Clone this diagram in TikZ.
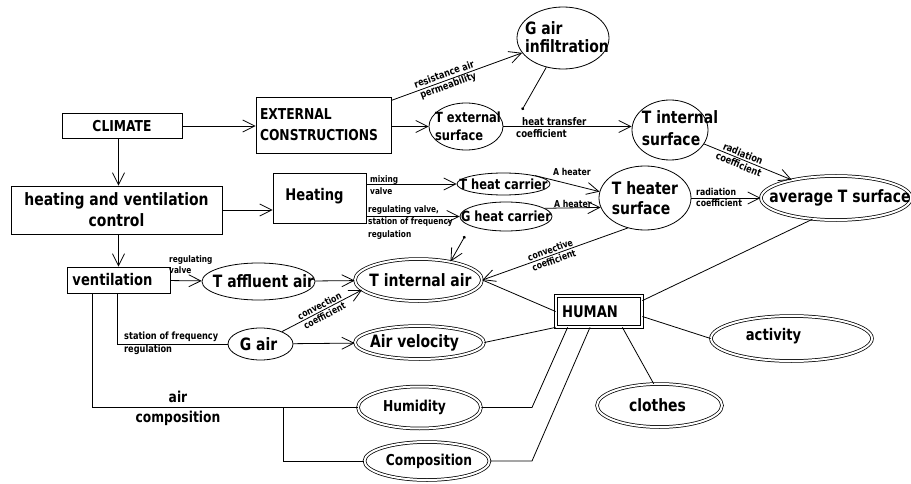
\documentclass[tikz,border=0pt]{standalone}
\usepackage{fontspec}
\setmainfont{DejaVu Sans}[FakeStretch=0.82]
\usetikzlibrary{arrows.meta,shapes.geometric,calc}
\newcommand{\fsz}[2]{\fontsize{#1}{#2}\selectfont\bfseries}
\tikzset{
  box/.style={draw, line width=0.9pt, inner sep=0pt},
  ell/.style={draw, ellipse, line width=0.8pt, inner sep=0pt},
  dell/.style={ell, double, double distance=2pt, line width=0.75pt},
  arr/.style={line width=0.8pt, -{Straight Barb[length=12pt,width=12pt]}},
  ln/.style={line width=0.8pt},
  lbl/.style={font=\fsz{9.5}{11}, inner sep=1pt, align=left},
  lblc/.style={font=\fsz{9.5}{11}, inner sep=1pt, align=center},
  big/.style={font=\fsz{17}{20}, align=left},
  mid/.style={font=\fsz{14}{18}, align=left},
}
\begin{document}
\begin{tikzpicture}[x=1pt,y=-1pt]
\useasboundingbox (0,0) rectangle (911,484);

% boxes
\node[box, minimum width=120pt, minimum height=25pt, font=\fsz{15}{16}] (climate) at (122,126) {CLIMATE};
\node[box, minimum width=135pt, minimum height=56pt, text width=127pt, align=left, font=\fsz{15}{21}] (ext) at (323.5,125) {EXTERNAL\\CONSTRUCTIONS};
\node[box, minimum width=211pt, minimum height=48pt, align=center, font=\fsz{17}{21}] (hv) at (116.5,210) {heating and ventilation\\control};
\node[box, minimum width=93pt, minimum height=50pt, label={[font=\fsz{16}{18}, xshift=-5pt, yshift=2pt]center:Heating}] (heating) at (319.5,198) {};
\node[box, minimum width=103pt, minimum height=26pt, label={[font=\fsz{16}{18}, xshift=-6pt]center:ventilation}] (vent) at (118.5,280) {};
\node[box, double, double distance=1.6pt, line width=0.75pt, minimum width=86pt, minimum height=31pt, label={[font=\fsz{16}{18}, xshift=-9pt]center:HUMAN}] (human) at (599,311.5) {};

% ellipses
\node[ell, minimum width=92pt, minimum height=62pt, label={[big, font=\fsz{17}{18}, xshift=4pt, yshift=1pt]center:{G air\\infiltration}}] (ginf) at (563,38) {};
\node[ell, minimum width=74pt, minimum height=47pt, label={[mid, xshift=2pt]center:{T external\\surface}}] (text) at (466,126.5) {};
\node[ell, minimum width=76pt, minimum height=60pt, label={[big, font=\fsz{17}{22}, xshift=10pt, yshift=2pt]center:{T internal\\surface}}] (tint) at (670,130) {};
\node[dell, minimum width=150pt, minimum height=44pt, label={[big, xshift=4pt]center:average T surface}] (avg) at (836,198) {};
\node[ell, minimum width=92pt, minimum height=64pt, label={[big]center:{T heater\\surface}}] (heater) at (645,198) {};
\node[ell, minimum width=93pt, minimum height=22pt, label={[mid]center:T heat carrier}] (hc1) at (503.5,184) {};
\node[ell, minimum width=92pt, minimum height=29pt, label={[mid]center:G heat carrier}] (hc2) at (506,216.5) {};
\node[ell, minimum width=113pt, minimum height=37pt, label={[big, xshift=5pt]center:T affluent air}] (taff) at (258.5,281.5) {};
\node[dell, minimum width=127pt, minimum height=42pt, label={[big, xshift=2pt]center:T internal air}] (tia) at (418.5,280) {};
\node[ell, minimum width=65pt, minimum height=32pt, label={[big, xshift=-2pt]center:G air}] (gair) at (260.5,344) {};
\node[dell, minimum width=129pt, minimum height=33pt, label={[big, xshift=-5pt]center:Air velocity}] (airv) at (419.5,342.5) {};
\node[dell, minimum width=123pt, minimum height=42pt, label={[font=\fsz{15}{18}, xshift=-5pt]center:Humidity}] (hum) at (419.5,407.5) {};
\node[dell, minimum width=125pt, minimum height=38pt, label={[font=\fsz{15}{18}, xshift=2pt]center:Composition}] (comp) at (427,461) {};
\node[dell, minimum width=125pt, minimum height=43pt, label={[big, xshift=-2pt]center:clothes}] (clothes) at (659.5,405.5) {};
\node[dell, minimum width=161pt, minimum height=45pt, label={[font=\fsz{16}{18}, xshift=-18pt, yshift=2pt]center:activity}] (activity) at (791.5,338.5) {};

\coordinate (dot1) at (522,110);
\coordinate (dot2) at (465,236);
\coordinate (vx1) at (117,0);
\coordinate (vx2) at (92,0);
\coordinate (jx) at (283,0);
\coordinate (hk) at (532,0);

% top
\draw[arr] (climate.east) -- (climate.east -| ext.west);
\draw[arr] (ext.east |- text.west) -- (text.west);
\draw[arr] (ext) -- node[lblc, sloped, pos=0.42, font=\fsz{10}{11.5}] {resistance air\\permeability} (ginf);
\draw[arr] (text.east) -- (text.east -| tint.west);
\node[lbl, anchor=west, font=\fsz{10.5}{12}] (htc) at (515,128) {\hspace*{6pt}heat transfer\\coefficient};
\draw[ln, {Circle[length=3pt]}-] (dot1) -- (ginf);
\draw[arr] (tint) -- node[lblc, sloped, pos=0.42, font=\fsz{10}{11.5}] {radiation\\coefficient} (avg);
\draw[arr] (heater) -- (avg);
\node[lbl, anchor=west] (rc2) at (695,197) {radiation\\coefficient};

% control chain
\draw[arr] (climate.south -| vent) -- (hv.north -| vent);
\draw[arr] (hv.south -| vent) -- (vent.north);
\draw[arr] (hv.east) -- (hv.east -| heating.west);
\draw[arr] (heating.east |- hc1) -- (hc1.west);
\node[lbl, anchor=west, font=\fsz{9}{11.5}] (mv) at (369,185) {mixing\\valve};
\draw[arr] (heating.east |- hc2) -- (hc2.west);
\node[lbl, anchor=north west, font=\fsz{9}{12.5}] (rv) at (367,204) {regulating valve,\\station of frequency\\regulation};
\draw[arr] (hc1.15) -- (heater.172);
\node[lbl] (ah1) at (572,172) {A heater};
\draw[arr] (hc2.12) -- (heater.192);
\node[lbl] (ah2) at (573,204) {A heater};
\draw[ln, {Circle[length=3pt]}-{Straight Barb[length=12pt,width=12pt]}] (dot2) -- (tia.30);
\draw[arr] (heater.240) -- node[lblc, sloped, pos=0.52] {convective\\coefficient} (tia.east);

% ventilation
\draw[arr] (vent) -- (taff);
\node[lbl, anchor=south west, font=\fsz{9}{11}] (rgv) at (168,275) {regulating\\valve};
\draw[arr] (taff) -- (tia);
\draw[arr] (gair.30) -- node[lblc, sloped, pos=0.5] {convection\\coefficient} (tia.190);
\draw[arr] (gair) -- (airv);
\draw[ln] (vx1 |- vent.south) -- (vx1 |- gair.west) -- (gair.west);
\node[lbl, anchor=west, font=\fsz{10}{13}] (sfr) at (123,343) {station of frequency\\regulation};
\draw[ln] (vx2 |- vent.south) -- (vx2 |- hum.west) -- (hum.west);
\draw[ln] (jx |- hum.west) -- (jx |- comp.west) -- (comp.west);
\node[font=\fsz{15}{20}, align=center] (aircomp) at (178,408) {air\\composition};

% human links
\draw[ln] (tia.east) -- (human.west);
\draw[ln] ($(human.north east)+(0,5)$) -- (avg.222);
\draw[ln] (human.south west) -- (airv.east);
\draw[ln] (hum.east) -- (hk |- hum.east) -- ($(human.south west)+(12,0)$);
\draw[ln] (comp.east) -- (hk |- comp.east) -- ($(human.south)+(-9,0)$);
\draw[ln] ($(human.south east)+(-20,0)$) -- (clothes.105);
\draw[ln] ($(human.east)+(0,5)$) -- (activity.west);
\end{tikzpicture}
\end{document}
